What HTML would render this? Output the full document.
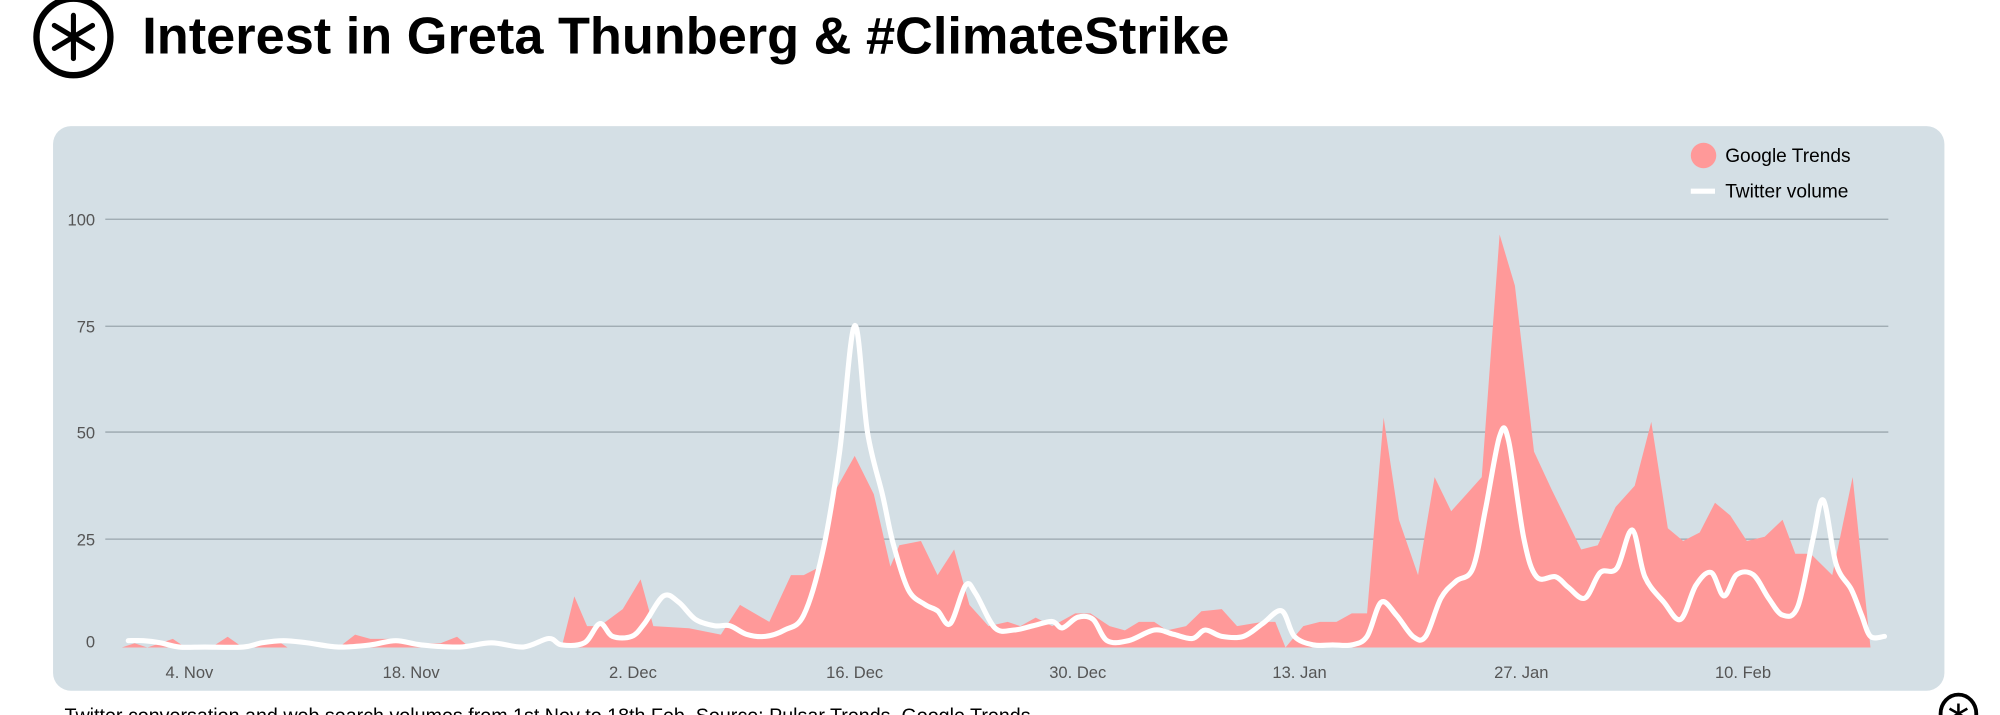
<!DOCTYPE html>
<html><head><meta charset="utf-8"><style>
html,body{margin:0;padding:0;background:#fff;}
svg{display:block}
text{font-family:"Liberation Sans",sans-serif}
</style></head><body>
<svg width="2000" height="715" viewBox="0 0 1568 561" xmlns="http://www.w3.org/2000/svg">
<rect width="1568" height="561" fill="#fff"/>
<g transform="translate(57,29)" stroke="#000" fill="none">
<ellipse cx="0" cy="0" rx="29" ry="30" stroke-width="5"/>
<g stroke-width="4" stroke-linecap="round">
<line x1="0" y1="-17" x2="0" y2="17"/><line x1="-15" y1="-9" x2="15" y2="9"/><line x1="-15" y1="9" x2="15" y2="-9"/>
</g></g>
<text x="111" y="42" font-size="41" font-weight="bold" fill="#000" textLength="853" lengthAdjust="spacingAndGlyphs">Interest in Greta Thunberg &amp; #ClimateStrike</text>
<rect x="41" y="99" width="1484" height="443" rx="14" fill="#d4dfe5"/>
<g stroke="#9aa6ad" stroke-width="1">
<line x1="82" y1="172" x2="1481" y2="172"/><line x1="82" y1="256" x2="1481" y2="256"/>
<line x1="82" y1="339" x2="1481" y2="339"/><line x1="82" y1="423" x2="1481" y2="423"/>
</g>
<g font-size="13" fill="#555" text-anchor="end">
<text x="74" y="177">100</text><text x="74" y="261">75</text><text x="74" y="344">50</text><text x="74" y="428">25</text><text x="74" y="508">0</text>
</g>
<g font-size="13" fill="#555" text-anchor="middle">
<text x="148" y="532">4. Nov</text><text x="322" y="532">18. Nov</text><text x="496" y="532">2. Dec</text><text x="670" y="532">16. Dec</text><text x="845" y="532">30. Dec</text><text x="1019" y="532">13. Jan</text><text x="1193" y="532">27. Jan</text><text x="1367" y="532">10. Feb</text>
</g>
<g transform="translate(0,508) scale(1,-3.34)">
<polygon fill="#ff9999" points="95,0 105,1 115,0 135,2 145,0 165,0 178,2.5 190,0 215,2 225,0 265,0 278,3 290,2 305,2 320,1 345,1 358,2.5 368,0 440,0 450,12 460,5 470,5 488,9 502,16 512,5 540,4.5 565,3 580,10 603,6 620,17 630,17 643,19 655,37 670,45 685,36 698,19 705,24 722,25 735,17 748,23 760,10 775,5 790,6 800,5 812,7 825,5 843,8 855,8 870,5 882,4 893,6 905,6 915,4 930,5 942,8.5 958,9 970,5 990,6 1000,6 1008,0 1022,5 1035,6 1048,6 1060,8 1072,8 1085,54 1097,30 1112,17 1125,40 1138,32 1150,36 1162,40 1176,97 1188,85 1203,46 1217,37 1240,23 1253,24 1267,33 1282,38 1295,53 1308,28 1320,25 1333,27 1345,34 1357,31 1370,25 1384,26 1398,30 1408,22 1420,22 1437,17 1453,40 1467,0"/>
</g>
<path id="tw" fill="none" stroke="#fff" stroke-width="4" stroke-linejoin="round" stroke-linecap="round" d=""/>
<circle cx="1336" cy="122" r="10" fill="#ff9999"/>
<text x="1353" y="127" font-size="15" fill="#000">Google Trends</text>
<line x1="1326" y1="150" x2="1345" y2="150" stroke="#fff" stroke-width="4"/>
<text x="1353" y="155" font-size="15" fill="#000">Twitter volume</text>
<text x="50" y="567" font-size="16" fill="#000" textLength="758" lengthAdjust="spacingAndGlyphs">Twitter conversation and web search volumes from 1st Nov to 18th Feb. Source: Pulsar Trends, Google Trends</text>
<g transform="translate(1536,560)" stroke="#000" fill="none"><ellipse rx="14" ry="15" stroke-width="3"/>
<line x1="0" y1="-8" x2="0" y2="8" stroke-width="2"/><line x1="-7" y1="-4" x2="7" y2="4" stroke-width="2"/><line x1="-7" y1="4" x2="7" y2="-4" stroke-width="2"/></g>
</svg>
<script>
var raw=[100,1,112,1,125,0.5,140,-0.5,160,-0.5,190,-0.5,205,0.5,222,1,240,0.5,265,-0.5,290,0,310,1,330,0,360,-0.5,385,0.5,410,-0.5,430,1.5,440,0,458,0.5,470,5,480,2,495,2,505,5,520,11.5,532,10,545,6,560,4.5,572,4.5,585,2.5,600,2,615,3.5,630,7,645,22,658,45,670,75,680,50,692,35,700,24,712,13,725,9.5,735,8,745,5,757,14,765,12,780,4,795,3.5,810,4.5,825,5.5,833,4,845,6.5,857,6,868,1,885,1,905,3.5,920,2.5,935,1.5,945,3.5,958,2,975,2,990,5,1005,8,1015,2,1030,0,1045,0,1060,0,1072,2,1083,10,1095,7,1108,2,1118,2,1130,11,1142,15,1155,18,1165,32,1176,49,1183,48,1195,25,1205,16,1220,16,1230,13.5,1243,11,1255,17,1268,18,1280,27,1290,16,1305,10,1318,6,1330,14,1342,17,1352,11.5,1362,16.5,1375,16.5,1387,11,1398,7,1410,9,1422,25,1430,34,1440,19,1452,13,1460,7,1467,2,1478,2];
var p=[];for(var i=0;i<raw.length;i+=2)p.push([raw[i],506-3.34*raw[i+1]]);
var d="M"+p[0][0]+","+p[0][1];
for(var i=0;i<p.length-1;i++){var a=p[i-1]||p[i],b=p[i],c=p[i+1],e=p[i+2]||c;
d+=" C"+(b[0]+(c[0]-a[0])/6)+","+(b[1]+(c[1]-a[1])/6)+" "+(c[0]-(e[0]-b[0])/6)+","+(c[1]-(e[1]-b[1])/6)+" "+c[0]+","+c[1];}
document.getElementById("tw").setAttribute("d",d);
</script>
</body></html>
